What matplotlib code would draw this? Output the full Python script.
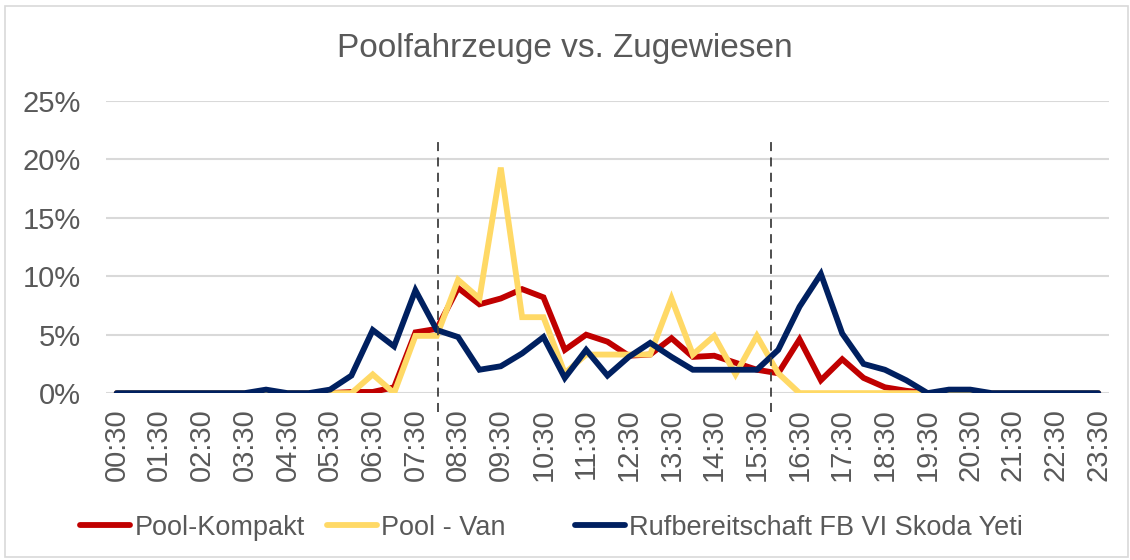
import numpy as np
import matplotlib
matplotlib.use("Agg")
import matplotlib.pyplot as plt
from matplotlib.patches import Rectangle
from matplotlib.ticker import PercentFormatter

plt.rcParams['font.family'] = ['Liberation Sans', 'DejaVu Sans']

## DATEN (Anteil in %, alle 30 Minuten von 00:30 bis 23:30)
zeiten = ["%02d:%02d" % divmod(30 + 30 * i, 60) for i in range(47)]

pool_kompakt = [0, 0, 0, 0, 0, 0, 0, 0, 0, 0,
                0, 0.1, 0.1, 0.5, 5.2, 5.5, 9.0, 7.6, 8.1, 8.9,
                8.2, 3.7, 5.0, 4.4, 3.2, 3.3, 4.7, 3.1, 3.2, 2.6,
                2.0, 1.7, 4.6, 1.1, 2.9, 1.3, 0.5, 0.2, 0, 0,
                0, 0, 0, 0, 0, 0, 0]
pool_van = [0, 0, 0, 0, 0, 0, 0, 0, 0, 0,
            0, 0, 1.6, 0, 4.9, 4.9, 9.7, 8.1, 19.3, 6.5,
            6.5, 1.7, 3.3, 3.3, 3.3, 3.3, 8.1, 3.3, 4.9, 1.6,
            4.9, 1.7, 0, 0, 0, 0, 0, 0, 0, 0,
            0, 0, 0, 0, 0, 0, 0]
rufbereitschaft = [0, 0, 0, 0, 0, 0, 0, 0.3, 0, 0,
                   0.3, 1.5, 5.4, 4.0, 8.8, 5.4, 4.8, 2.0, 2.3, 3.4,
                   4.8, 1.3, 3.7, 1.5, 3.1, 4.3, 3.1, 2.0, 2.0, 2.0,
                   2.0, 3.7, 7.4, 10.2, 5.1, 2.5, 2.0, 1.1, 0, 0.3,
                   0.3, 0, 0, 0, 0, 0, 0]

serien = ["Pool-Kompakt", "Pool - Van", "Rufbereitschaft FB VI Skoda Yeti"]
farben = ["#C00000", "#FFD966", "#002060"]

# Markierungen (gestrichelte Linien) auf der Zeitachse
markierungen = [15.05, 30.65]

## GRAFIK
grau = "#595959"
fig = plt.figure(figsize=(11.3, 5.6), dpi=100)
fig.patches.append(Rectangle((0.004, 0.006), 0.994, 0.984, transform=fig.transFigure,
                             fill=False, edgecolor="#d9d9d9", linewidth=1.2))
ax = fig.add_axes([0.0938, 0.298, 0.8876, 0.5216])

x = np.arange(len(zeiten))
linien = []
for werte, name, farbe in zip([pool_kompakt, pool_van, rufbereitschaft], serien, farben):
    l, = ax.plot(x, np.array(werte) / 100, color=farbe, linewidth=4.2, label=name,
                 solid_capstyle="round", solid_joinstyle="miter", zorder=3)
    linien.append(l)

for m in markierungen:
    ax.plot([m, m], [-0.016, 0.22], color="#404040", linewidth=1.3,
            linestyle=(0, (5, 3.5)), clip_on=False, zorder=4)

ax.set_xlim(-0.5, len(zeiten) - 0.5)
ax.set_ylim(0, 0.25)
ax.set_yticks(np.arange(0, 0.26, 0.05))
ax.yaxis.set_major_formatter(PercentFormatter(1.0, decimals=0))
ax.set_xticks(x[::2])
ax.set_xticklabels(zeiten[::2], rotation=90)
ax.tick_params(axis="both", length=0, labelsize=21, colors=grau)
ax.tick_params(axis="y", pad=18)
ax.tick_params(axis="x", pad=11)
ax.grid(axis="y", color="#d9d9d9", linewidth=1.5)
ax.set_axisbelow(True)
for s in ax.spines.values():
    s.set_visible(False)

fig.text(0.5, 0.913, "Poolfahrzeuge vs. Zugewiesen", ha="center", va="center",
         fontsize=24, color=grau)

# Legende wie in Excel: gleich breite Spalten, links beginnend
for l, x0 in zip(linien, [0.071, 0.289, 0.509]):
    fig.legend(handles=[l], loc="center left", bbox_to_anchor=(x0, 0.058), frameon=False,
               fontsize=19.5, labelcolor=grau, handlelength=1.85, handletextpad=0.15,
               borderaxespad=0, borderpad=0)

plt.savefig("out.png", dpi=100)
